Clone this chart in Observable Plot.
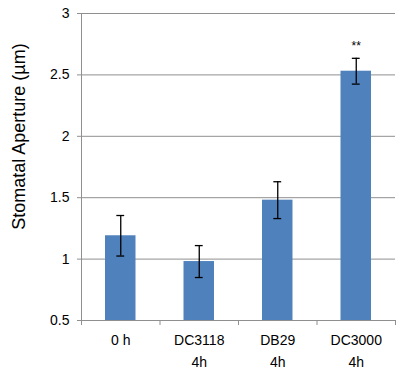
<!DOCTYPE html>
<html>
<head>
<meta charset="utf-8">
<script src="https://cdn.jsdelivr.net/npm/d3@7"></script>
<script src="https://cdn.jsdelivr.net/npm/@observablehq/plot@0.6"></script>
<style>
  html, body { margin: 0; padding: 0; background: #fff; }
  #chart svg { display: block; }
</style>
</head>
<body>
<div id="chart"></div>
<script>
const categories = ["0 h", "DC3118\n4h", "DB29\n4h", "DC3000\n4h"];
const means = [1.19, 0.98, 1.48, 2.53];
const errors = [0.165, 0.13, 0.15, 0.105];
const significance = ["", "", "", "**"];
const yTicks = [0.5, 1, 1.5, 2, 2.5, 3];
const yLabel = "Stomatal Aperture (µm)";

const data = categories.map((c, i) => ({
  i, c, mean: means[i], lo: means[i] - errors[i], hi: means[i] + errors[i], sig: significance[i]
}));
const boundaries = d3.range(categories.length + 1);

const chart = Plot.plot({
  width: 400,
  height: 373,
  marginLeft: 81,
  marginRight: 5,
  marginTop: 13,
  marginBottom: 53,
  style: { fontFamily: "'Liberation Sans', Arial, sans-serif", fontSize: "14px", background: "#fff", color: "#000" },
  x: { domain: [0, categories.length], axis: null },
  y: { domain: [0.5, 3], axis: null },
  marks: [
    Plot.ruleY(yTicks, { stroke: "#8f8f8f", strokeWidth: 1 }),
    Plot.rectY(data, { x1: d => d.i, x2: d => d.i + 1, y1: 0.5, y2: "mean", insetLeft: 24, insetRight: 24, fill: "#4f81bd" }),
    Plot.ruleX(data, { x: d => d.i + 0.5, y1: "lo", y2: "hi", stroke: "#000", strokeWidth: 1.3 }),
    Plot.ruleY(data, { y: "hi", x1: d => d.i + 0.45, x2: d => d.i + 0.55, stroke: "#000", strokeWidth: 1.3 }),
    Plot.ruleY(data, { y: "lo", x1: d => d.i + 0.45, x2: d => d.i + 0.55, stroke: "#000", strokeWidth: 1.3 }),
    Plot.ruleX([0], { stroke: "#8f8f8f" }),
    Plot.axisY(yTicks, { tickSize: 4, tickPadding: 8, stroke: "#8f8f8f", fill: "#000", fontSize: 14, tickFormat: d => String(d) }),
    Plot.axisX(boundaries, { tickSize: 5, stroke: "#8f8f8f", tickFormat: () => "" }),
    Plot.text(data, { x: d => d.i + 0.5, y: 0.5, text: "c", lineAnchor: "top", dy: 9, lineHeight: 1.55, fontSize: 14, fill: "#000" }),
    Plot.text(data, { x: d => d.i + 0.5, y: "hi", text: "sig", dy: -12, fontSize: 12, fill: "#000" }),
    Plot.text([yLabel], { frameAnchor: "top-left", textAnchor: "middle", rotate: -90, dx: -69, dy: 123, fontSize: 18, fill: "#000" })
  ]
});
document.getElementById("chart").appendChild(chart);
</script>
</body>
</html>
